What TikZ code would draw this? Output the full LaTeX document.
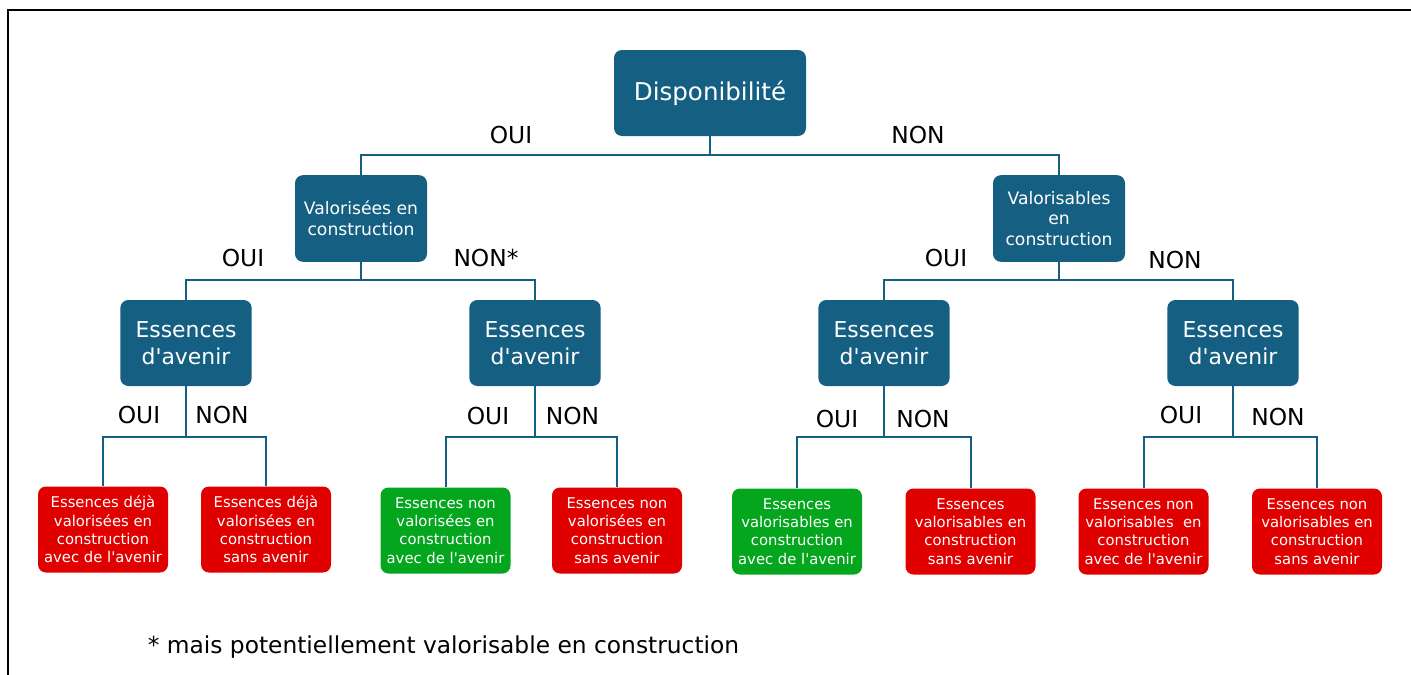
\documentclass[tikz,border=0pt]{standalone}
\usepackage{fontspec}
\setmainfont{DejaVu Sans}[Ligatures=TeXOff]

\definecolor{teal}{RGB}{21,96,130}
\definecolor{rouge}{RGB}{224,0,0}
\definecolor{vert}{RGB}{4,166,30}

\tikzset{
	box/.style={fill=teal, text=white, rounded corners=6pt, inner sep=0pt, align=center},
	topbox/.style={box, minimum width=144pt, minimum height=64.5pt, font=\fontsize{18.4}{22}\selectfont},
	midbox/.style={box, minimum width=99pt, minimum height=65pt, font=\fontsize{12.9}{15.4}\selectfont},
	essbox/.style={box, minimum width=98.5pt, minimum height=64.5pt, font=\fontsize{16.4}{20.3}\selectfont},
	leaf/.style={box, minimum width=97.5pt, minimum height=64.5pt, font=\fontsize{11.1}{13.7}\selectfont},
	red/.style={fill=rouge},
	green/.style={fill=vert},
	conn/.style={draw=teal, line width=1.5pt},
	lbl/.style={font=\fontsize{17.5}{20}\selectfont, inner sep=0pt}
}

\begin{document}
\begin{tikzpicture}[x=0.75pt, y=-0.75pt]
	\useasboundingbox (0,0) rectangle (1411,675);
	\draw[line width=1.5pt] (8,676) -- (8,10) -- (1412,10);

	\node[topbox] (disp) at (710,93) {Disponibilité};

	\node[midbox] (valo) at (361,218.5) {Valorisées en\\construction};
	\node[midbox] (vabl) at (1059,218.5) {Valorisables\\en\\construction};

	\node[essbox] (ess1) at (186,343) {Essences\\d'avenir};
	\node[essbox] (ess2) at (535,343) {Essences\\d'avenir};
	\node[essbox] (ess3) at (884,343) {Essences\\d'avenir};
	\node[essbox] (ess4) at (1233,343) {Essences\\d'avenir};

	\node[leaf, red] (f1) at (103,529.5) {Essences déjà\\valorisées en\\construction\\avec de l'avenir};
	\node[leaf, red] (f2) at (266,529.5) {Essences déjà\\valorisées en\\construction\\sans avenir};
	\node[leaf, green] (f3) at (445.5,530.5) {Essences non\\valorisées en\\construction\\avec de l'avenir};
	\node[leaf, red] (f4) at (617,530.5) {Essences non\\valorisées en\\construction\\sans avenir};
	\node[leaf, green] (f5) at (797,531.5) {Essences\\valorisables en\\construction\\avec de l'avenir};
	\node[leaf, red] (f6) at (970.5,531.5) {Essences\\valorisables en\\construction\\sans avenir};
	\node[leaf, red] (f7) at (1143.5,531.5) {Essences non\\valorisables~ en\\construction\\avec de l'avenir};
	\node[leaf, red] (f8) at (1317,531.5) {Essences non\\valorisables en\\construction\\sans avenir};

	% liaisons
	\draw[conn] (disp.south) -- ++(0,19) coordinate (j0);
	\draw[conn] (j0) -| (valo.north);
	\draw[conn] (j0) -| (vabl.north);

	\draw[conn] (valo.south) -- ++(0,18) coordinate (j1);
	\draw[conn] (j1) -| (ess1.north);
	\draw[conn] (j1) -| (ess2.north);
	\draw[conn] (vabl.south) -- ++(0,18) coordinate (j2);
	\draw[conn] (j2) -| (ess3.north);
	\draw[conn] (j2) -| (ess4.north);

	\foreach \e/\a/\b in {ess1/f1/f2, ess2/f3/f4, ess3/f5/f6, ess4/f7/f8}{
		\draw[conn] (\e.south) -- ++(0,51) coordinate (j\e);
		\draw[conn] (j\e) -| (\a.north);
		\draw[conn] (j\e) -| (\b.north);
	}

	% oui / non
	\node[lbl] (o0) at (511,135) {OUI};
	\node[lbl] (n0) at (918,135) {NON};
	\node[lbl] (o1) at (243,258) {OUI};
	\node[lbl] (n1) at (486,258) {NON*};
	\node[lbl] (o2) at (946,258) {OUI};
	\node[lbl] (n2) at (1175,260) {NON};
	\node[lbl] (o3) at (139,415) {OUI};
	\node[lbl] (n3) at (222,415) {NON};
	\node[lbl] (o4) at (488,416) {OUI};
	\node[lbl] (n4) at (572.5,416) {NON};
	\node[lbl] (o5) at (837,419) {OUI};
	\node[lbl] (n5) at (923,419) {NON};
	\node[lbl] (o6) at (1181,415) {OUI};
	\node[lbl] (n6) at (1278,417) {NON};

	\node[lbl] (note) at (443.5,647) {* mais potentiellement valorisable en construction};
\end{tikzpicture}
\end{document}
